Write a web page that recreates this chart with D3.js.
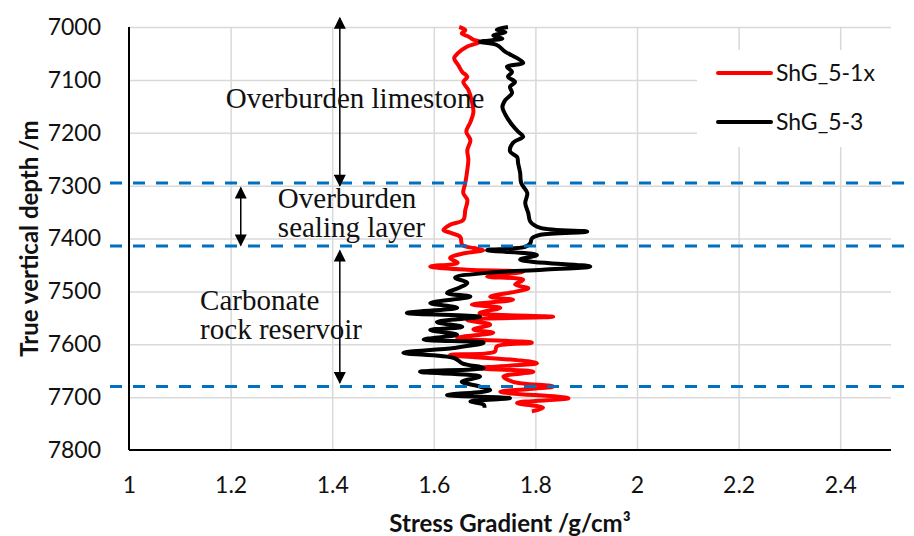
<!DOCTYPE html>
<html>
<head>
<meta charset="utf-8">
<script src="https://cdn.jsdelivr.net/npm/d3@7"></script>
<style>
  body { margin: 0; background: #fff; }
  svg { display: block; }
</style>
</head>
<body>
<div id="chart"></div>
<script>
// ---- data ----
var depthRed = [7000,7006,7012,7018,7024,7028,7037,7049,7059,7072,7085,7094,7104,7119,7141,7161,7180,7198,
  7214,7233,7251,7270,7295,7314,7327,7346,7365,7374,7384,7389,7397,7412,7418,7422,7428,7437,7446,7453,7459,
  7463,7472,7478,7487,7494,7500,7510,7516,7525,7531,7541,7548,7554,7563,7572,7578,7588,7597,7604,7614,7620,
  7630,7636,7645,7652,7661,7671,7680,7690,7702,7711,7720,7727];
var gradRed = [1.650,1.662,1.655,1.668,1.678,1.691,1.666,1.648,1.640,1.648,1.656,1.666,1.658,1.668,1.675,1.678,1.672,1.664,
  1.672,1.666,1.668,1.666,1.662,1.658,1.666,1.662,1.658,1.632,1.619,1.632,1.652,1.656,1.678,1.697,1.660,1.632,1.647,1.593,1.666,
  1.776,1.705,1.776,1.760,1.786,1.764,1.711,1.756,1.675,1.731,1.690,1.835,1.666,1.711,1.678,1.717,1.646,1.793,1.724,1.720,1.632,
  1.764,1.803,1.691,1.796,1.737,1.756,1.835,1.731,1.865,1.764,1.815,1.793];

var depthBlack = [7000,7005,7010,7016,7022,7028,7034,7047,7059,7068,7075,7085,7094,7104,7113,7125,7138,7151,7166,7185,
  7198,7207,7219,7235,7246,7258,7276,7295,7314,7333,7352,7368,7380,7387,7393,7400,7409,7416,7422,7431,7440,7453,
  7459,7465,7474,7484,7493,7503,7510,7522,7531,7541,7548,7558,7567,7573,7582,7591,7597,7607,7616,7626,7636,7645,
  7652,7661,7671,7680,7687,7696,7702,7708,7714,7720];
var gradBlack = [1.746,1.724,1.741,1.717,1.735,1.691,1.724,1.741,1.764,1.776,1.744,1.754,1.746,1.760,1.750,1.754,1.741,1.735,1.741,1.754,
  1.766,1.776,1.756,1.750,1.764,1.766,1.770,1.772,1.784,1.780,1.786,1.790,1.810,1.902,1.810,1.793,1.790,1.780,1.705,1.803,1.770,1.908,
  1.815,1.705,1.642,1.666,1.650,1.626,1.672,1.593,1.646,1.547,1.691,1.606,1.656,1.593,1.646,1.580,1.698,1.640,1.540,1.640,1.656,1.698,
  1.573,1.691,1.655,1.691,1.711,1.626,1.750,1.672,1.698,1.700];

var seriesNames = ["ShG_5-1x", "ShG_5-3"];
var seriesColors = ["#ff0000", "#000000"];

var xTicks = [1, 1.2, 1.4, 1.6, 1.8, 2, 2.2, 2.4];
var yTicks = [7000, 7100, 7200, 7300, 7400, 7500, 7600, 7700, 7800];

// layer boundaries (dashed) and the zone labels
var boundaryDepths = [7295, 7414, 7680];
var zoneLines = [["Overburden limestone"], ["Overburden", "sealing layer"], ["Carbonate", "rock reservoir"]];
var zoneAnchorX = [1.445, 1.293, 1.140];
var zoneAnchorDepth = [7153, 7342, 7535];
var zoneAlign = ["middle", "start", "start"];
// double arrows: x value, top depth, bottom depth
var arrowX = [1.415, 1.220, 1.415];
var arrowTop = [6983, 7304, 7423];
var arrowBottom = [7300, 7413, 7673];

// ---- layout ----
var W = 914, H = 536;
var mLeft = 129, mRight = 891, mTop = 27, mBottom = 450;

var svg = d3.select("#chart").append("svg")
    .attr("width", W)
    .attr("height", H);

var x = d3.scaleLinear().domain([1, 2.5]).range([mLeft, mRight]);
var y = d3.scaleLinear().domain([7000, 7800]).range([mTop, mBottom]);

//grid
svg.append("g")
    .attr("transform", "translate(0," + mBottom + ")")
    .call(d3.axisBottom(x).tickValues(xTicks.slice(1)).tickSize(-(mBottom - mTop)).tickFormat(""))
    .call(function(g){ g.select(".domain").remove(); })
    .selectAll("line").attr("stroke", "#d9d9d9").attr("stroke-width", 1.5);

svg.append("g")
    .attr("transform", "translate(" + mLeft + ",0)")
    .call(d3.axisLeft(y).tickValues(yTicks.slice(0, -1)).tickSize(-(mRight - mLeft)).tickFormat(""))
    .call(function(g){ g.select(".domain").remove(); })
    .selectAll("line").attr("stroke", "#d9d9d9").attr("stroke-width", 1.5);

//axes
var xAxis = svg.append("g")
    .attr("transform", "translate(0," + mBottom + ")")
    .call(d3.axisBottom(x).tickValues(xTicks).tickSize(0).tickPadding(27).tickFormat(d3.format("")));
var yAxis = svg.append("g")
    .attr("transform", "translate(" + mLeft + ",0)")
    .call(d3.axisLeft(y).tickValues(yTicks).tickSize(0).tickPadding(28).tickFormat(d3.format("d")));

[xAxis, yAxis].forEach(function(a){
    a.select(".domain").attr("stroke", "#000").attr("stroke-width", 2);
    a.selectAll("text")
        .attr("fill", "#111")
        .style("font-family", "Lato, 'Open Sans', sans-serif")
        .style("font-size", "23px");
});
// plain axis lines, no end ticks
xAxis.select(".domain").attr("d", "M" + mLeft + ",0H" + mRight);
yAxis.select(".domain").attr("d", "M0," + mTop + "V" + mBottom);

//axis titles
svg.append("text")
    .attr("x", (mLeft + mRight) / 2)
    .attr("y", 532)
    .attr("text-anchor", "middle")
    .style("font-family", "Lato, sans-serif")
    .style("font-weight", "bold")
    .style("font-size", "24px")
    .attr("fill", "#111")
    .text("Stress Gradient /g/cm³");

svg.append("text")
    .attr("transform", "translate(38," + ((mTop + mBottom) / 2) + ") rotate(-90)")
    .attr("text-anchor", "middle")
    .style("font-family", "Lato, sans-serif")
    .style("font-weight", "bold")
    .style("font-size", "24px")
    .attr("fill", "#111")
    .text("True vertical depth /m");

//curves
var redData = depthRed.map(function(d, i){ return [gradRed[i], d]; });
var blackData = depthBlack.map(function(d, i){ return [gradBlack[i], d]; });

var line = d3.line()
    .x(function(d){ return x(d[0]); })
    .y(function(d){ return y(d[1]); })
    .curve(d3.curveCatmullRom.alpha(0.5));

[redData, blackData].forEach(function(data, i){
    svg.append("path")
        .datum(data)
        .attr("fill", "none")
        .attr("stroke", seriesColors[i])
        .attr("stroke-width", 4)
        .attr("stroke-linejoin", "round")
        .attr("d", line);
});

//dashed layer boundaries
svg.selectAll("line.boundary")
    .data(boundaryDepths)
    .enter()
    .append("line")
    .attr("class", "boundary")
    .attr("x1", 110)
    .attr("x2", W)
    .attr("y1", function(d){ return y(d); })
    .attr("y2", function(d){ return y(d); })
    .attr("stroke", "#0070c0")
    .attr("stroke-width", 3)
    .attr("stroke-dasharray", "12,11");

//double arrows
var defs = svg.append("defs");
defs.append("marker")
    .attr("id", "head")
    .attr("viewBox", "0 0 10 10")
    .attr("refX", 9).attr("refY", 5)
    .attr("markerUnits", "userSpaceOnUse")
    .attr("markerWidth", 13).attr("markerHeight", 12)
    .attr("orient", "auto-start-reverse")
    .append("path")
    .attr("d", "M0,0L10,5L0,10Z")
    .attr("fill", "#000");

arrowX.forEach(function(v, i){
    svg.append("line")
        .attr("x1", x(v)).attr("x2", x(v))
        .attr("y1", y(arrowTop[i])).attr("y2", y(arrowBottom[i]))
        .attr("stroke", "#000")
        .attr("stroke-width", 1.5)
        .attr("marker-start", "url(#head)")
        .attr("marker-end", "url(#head)");
});

//zone labels
zoneLines.forEach(function(lines, i){
    var t = svg.append("text")
        .attr("x", x(zoneAnchorX[i]))
        .attr("y", y(zoneAnchorDepth[i]))
        .attr("text-anchor", zoneAlign[i])
        .style("font-family", "'Liberation Serif', 'Times New Roman', serif")
        .style("font-size", "29px")
        .attr("fill", "#111");
    lines.forEach(function(s, j){
        t.append("tspan")
            .attr("x", x(zoneAnchorX[i]))
            .attr("dy", j === 0 ? 0 : 29)
            .text(s);
    });
});

//legend
var legend = svg.append("g");
legend.append("rect")
    .attr("x", 697).attr("y", 50)
    .attr("width", W - 697).attr("height", 97)
    .attr("fill", "#fff");

var legendItem = legend.selectAll("g.item")
    .data(seriesNames)
    .enter()
    .append("g")
    .attr("class", "item")
    .attr("transform", function(d, i){ return "translate(718," + (73 + i * 49) + ")"; });

legendItem.append("line")
    .attr("x1", 0).attr("x2", 53)
    .attr("stroke", function(d, i){ return seriesColors[i]; })
    .attr("stroke-width", 4)
    .attr("stroke-linecap", "round");

legendItem.append("text")
    .attr("x", 58)
    .attr("dy", "0.35em")
    .style("font-family", "Lato, sans-serif")
    .style("font-size", "23px")
    .attr("fill", "#111")
    .text(function(d){ return d; });
</script>
</body>
</html>
